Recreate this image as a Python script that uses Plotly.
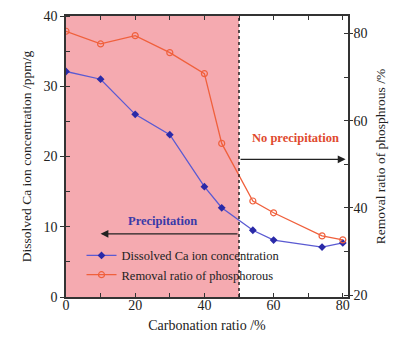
import plotly.graph_objects as go

carb_ca = [0, 10, 20, 30, 40, 45, 54, 60, 74, 80]
ca_conc = [32.1, 31.0, 26.0, 23.1, 15.7, 12.7, 9.5, 8.1, 7.1, 7.7]
carb_p = [0, 10, 20, 30, 40, 45, 54, 60, 74, 80]
p_removal = [80.5, 77.6, 79.5, 75.6, 70.8, 54.8, 41.6, 38.9, 33.6, 32.7]

FONT = "Liberation Serif"

fig = go.Figure()
fig.add_trace(go.Scatter(
    x=carb_ca, y=ca_conc, mode="lines+markers",
    name="Dissolved Ca ion concentration",
    line=dict(color="#5a5ad2", width=1.3),
    marker=dict(symbol="diamond", size=6, color="#2a2aa8"),
))
fig.add_trace(go.Scatter(
    x=carb_p, y=p_removal, mode="lines+markers", yaxis="y2",
    name="Removal ratio of phosphorous",
    line=dict(color="#f0603c", width=1.3),
    marker=dict(symbol="circle-open", size=6, color="#f0603c", line=dict(width=1.2)),
))

fig.add_shape(type="rect", xref="x", yref="paper", x0=0, x1=50, y0=0, y1=1,
              fillcolor="#f5aab0", line_width=0, layer="below")
fig.add_shape(type="line", xref="x", yref="paper", x0=50, x1=50, y0=0, y1=1,
              line=dict(color="#222222", width=1.5, dash="dot"))

# arrows
fig.add_annotation(x=80.8, y=19.6, ax=50, ay=19.6, xref="x", yref="y", axref="x", ayref="y",
                   showarrow=True, arrowhead=2, arrowsize=1.3, arrowwidth=1.2, arrowcolor="#222222", text="")
fig.add_annotation(x=10, y=9.0, ax=50, ay=9.0, xref="x", yref="y", axref="x", ayref="y",
                   showarrow=True, arrowhead=2, arrowsize=1.3, arrowwidth=1.2, arrowcolor="#222222", text="")
fig.add_annotation(x=66.2, y=22.6, xref="x", yref="y", showarrow=False,
                   text="<b>No precipitation</b>", font=dict(family=FONT, size=12.5, color="#e04a2e"))
fig.add_annotation(x=28, y=10.8, xref="x", yref="y", showarrow=False,
                   text="<b>Precipitation</b>", font=dict(family=FONT, size=12.5, color="#3a3aa8"))

axcol = "#333333"
fig.update_layout(
    width=392, height=332,
    margin=dict(l=58, r=52, t=8, b=43, autoexpand=False),
    paper_bgcolor="white", plot_bgcolor="white",
    font=dict(family=FONT, size=13, color="#222222"),
    showlegend=True,
    legend=dict(x=0.055, y=0.2, xanchor="left", yanchor="top",
                bgcolor="rgba(0,0,0,0)", font=dict(family=FONT, size=12.5),
                tracegroupgap=0, itemwidth=30),
    xaxis=dict(range=[0, 81.5], tickvals=[0, 20, 40, 60, 80], ticks="inside", ticklen=4,
               minor=dict(dtick=10, ticks="inside", ticklen=4, tickcolor=axcol),
               showgrid=False, zeroline=False, showline=True, linecolor=axcol, linewidth=1.5,
               mirror="ticks", tickcolor=axcol, tickfont=dict(size=14), automargin=False,
               ticklabelstandoff=-6,
               title=dict(text="Carbonation ratio /%", standoff=9, font=dict(size=14))),
    yaxis=dict(range=[0, 40], tickvals=[0, 10, 20, 30, 40], ticks="outside", ticklen=4,
               minor=dict(dtick=5, ticks="inside", ticklen=4, tickcolor=axcol),
               showgrid=False, zeroline=False, showline=True, linecolor=axcol, linewidth=1.5,
               tickcolor=axcol, tickfont=dict(size=14), automargin=False,
               title=dict(text="Dissolved Ca ion concentration /ppm/g", standoff=9, font=dict(size=13.5))),
    yaxis2=dict(range=[19.6, 84], overlaying="y", side="right",
                tickvals=[20, 40, 60, 80], ticks="outside", ticklen=3,
                minor=dict(dtick=10, ticks="inside", ticklen=4, tickcolor=axcol),
                showgrid=False, zeroline=False, showline=True, linecolor=axcol, linewidth=1.5,
                tickcolor=axcol, tickfont=dict(size=14), automargin=False,
                ticklabelstandoff=-2,
                title=dict(text="Removal ratio of phosphrous /%", standoff=9, font=dict(size=13.5))),
)

fig.write_html("out.html")
